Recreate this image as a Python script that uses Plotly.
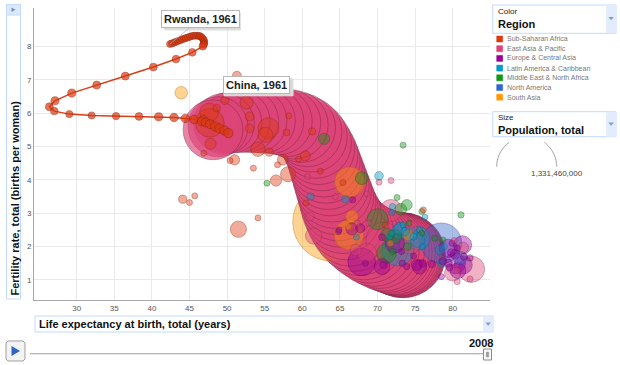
import math
import plotly.graph_objects as go

# ---------------- data (year 2008 snapshot) ----------------
region_names = ["Sub-Saharan Africa", "East Asia & Pacific", "Europe & Central Asia",
                "Latin America & Caribbean", "Middle East & North Africa", "North America", "South Asia"]
region_colors = ["#dc3912", "#dd4477", "#990099", "#0099c6", "#109618", "#3366cc", "#ff9900"]

ssa_names = ["Niger", "Mali", "Uganda", "Congo, Dem. Rep.", "Chad", "Nigeria", "Burkina Faso", "Ethiopia",
             "Tanzania", "Malawi", "Benin", "Gambia, The", "Mozambique", "Central African Republic", "Kenya",
             "Senegal", "Cameroon", "Guinea-Bissau", "Cote d'Ivoire", "Sudan", "Congo, Rep.", "Mauritania",
             "Togo", "Madagascar", "Comoros", "Ghana", "Zimbabwe", "Lesotho", "Swaziland", "South Africa",
             "Gabon", "Namibia", "Cape Verde", "Seychelles", "Guinea", "Sao Tome and Principe", "Angola"]
ssa_life = [51.3, 49.7, 52.6, 47.6, 48.6, 47.7, 53.0, 55.5, 55.1, 53.0, 57.9, 58.2, 47.8, 46.9, 54.1,
            55.6, 51.0, 50.4, 57.4, 58.1, 53.5, 56.7, 59.5, 60.4, 62.4, 56.5, 44.1, 45.0, 45.7, 51.5,
            54.1, 60.5, 71.0, 76.1, 61.3, 65.4, 46.8]
ssa_fert = [7.12, 6.38, 6.32, 6.02, 6.15, 5.71, 5.90, 5.55, 5.35, 5.55, 5.42, 5.92, 5.08, 4.80, 4.92,
            4.83, 4.60, 4.58, 4.60, 4.17, 4.35, 4.45, 4.62, 4.72, 4.26, 3.98, 3.42, 3.32, 3.52, 2.52,
            2.86, 3.31, 2.65, 3.10, 5.45, 3.92, 5.79]
ssa_pop = [14.7, 12.7, 31.7, 64.3, 11.0, 151.2, 15.2, 80.7, 42.5, 14.3, 8.7, 1.7, 22.4, 4.3, 38.8,
           12.2, 19.1, 1.6, 20.6, 41.3, 3.6, 3.2, 6.5, 19.1, 0.7, 23.4, 12.5, 2.0, 1.2, 48.7,
           1.4, 2.1, 0.5, 0.1, 9.8, 0.2, 18.0]

eap_names = ["Philippines", "Japan", "Korea, Rep.", "Hong Kong SAR, China", "Macao SAR, China", "Vietnam",
             "Indonesia", "Thailand", "Malaysia", "Myanmar", "Cambodia", "Australia", "New Zealand",
             "Papua New Guinea", "Lao PDR", "Mongolia", "Solomon Islands", "Samoa", "Kiribati",
             "Singapore", "Korea, Dem. Rep.", "Fiji"]
eap_life = [71.8, 82.5, 80.0, 82.3, 80.6, 74.3, 70.8, 68.6, 74.5, 61.5, 61.0, 81.4, 80.2,
            60.7, 64.4, 67.3, 70.2, 71.8, 68.6, 80.6, 67.1, 68.8]
eap_fert = [3.08, 1.32, 1.21, 1.03, 0.95, 2.10, 2.20, 1.81, 2.60, 2.32, 2.90, 1.97, 2.18,
            4.10, 3.50, 2.71, 3.93, 3.98, 3.58, 1.28, 1.90, 2.70]
eap_pop = [90.3, 127.7, 48.6, 7.0, 0.5, 86.2, 228.2, 67.4, 27.0, 49.2, 14.6, 21.4, 4.3,
           6.6, 6.2, 2.6, 0.5, 0.2, 0.1, 4.8, 23.8, 0.8]

eca_names = ["Russian Federation", "Ukraine", "Kazakhstan", "Tajikistan", "Kyrgyz Republic", "Uzbekistan",
             "Belarus", "Azerbaijan", "Turkey", "Armenia", "Georgia", "Romania", "Czech Republic",
             "Bulgaria", "Serbia", "Poland", "United Kingdom", "France", "Germany", "Italy", "Spain",
             "Sweden", "Portugal", "Hungary", "Austria", "Bosnia and Herzegovina", "Switzerland",
             "Netherlands", "Belgium", "Norway", "Ireland", "Greece", "Moldova", "Turkmenistan"]
eca_life = [67.9, 70.6, 67.7, 66.7, 64.8, 66.6, 70.8, 70.6, 72.3, 73.2, 74.8, 75.2, 76.0,
            73.3, 73.9, 75.6, 79.4, 81.3, 80.3, 81.4, 80.7, 81.5, 78.7, 77.2, 79.6, 78.5, 82.3,
            80.3, 79.8, 80.6, 79.9, 79.4, 68.4, 64.9]
eca_fert = [1.54, 1.40, 2.55, 3.40, 2.45, 2.53, 1.45, 2.28, 2.10, 1.85, 1.72, 1.45, 1.50,
            1.50, 1.40, 1.39, 1.95, 2.05, 1.50, 1.45, 1.28, 1.70, 1.56, 1.48, 1.38, 1.10, 1.66,
            1.77, 1.82, 1.96, 2.10, 1.51, 1.50, 2.50]
eca_pop = [142.0, 46.3, 15.7, 6.8, 5.3, 27.3, 9.7, 8.7, 70.0, 3.1, 4.4, 21.5, 10.4,
           7.6, 7.4, 38.1, 61.4, 62.1, 82.1, 59.8, 45.6, 9.2, 10.6, 10.0, 8.3, 3.8, 7.6,
           16.4, 10.7, 4.8, 4.4, 11.2, 3.6, 5.0]

lac_names = ["Haiti", "Guatemala", "Bolivia", "Guyana", "Paraguay", "Peru", "Nicaragua", "Ecuador",
             "Dominican Republic", "Venezuela, RB", "Colombia", "Mexico", "Argentina", "Brazil", "Chile",
             "Costa Rica", "Cuba", "Uruguay", "Belize", "Honduras", "Panama", "El Salvador", "Jamaica"]
lac_life = [61.1, 70.2, 65.7, 67.2, 71.9, 73.0, 73.4, 73.7, 74.8, 74.5, 72.9, 75.4, 75.3, 72.7, 78.3,
            78.9, 78.5, 76.0, 76.3, 72.0, 75.6, 71.6, 71.9]
lac_fert = [3.50, 4.12, 3.42, 2.28, 3.02, 2.55, 2.65, 2.45, 2.30, 2.40, 2.45, 2.25, 2.20, 1.90, 1.90,
            2.00, 1.50, 2.00, 2.88, 3.20, 2.50, 2.30, 2.40]
lac_pop = [9.9, 13.7, 9.7, 0.8, 6.2, 28.8, 5.7, 13.5, 9.8, 27.9, 45.0, 106.4, 39.9, 192.0, 16.8,
           4.5, 11.2, 3.3, 0.3, 7.3, 3.4, 6.1, 2.7]

mena_names = ["Yemen, Rep.", "Iraq", "Egypt, Arab Rep.", "Iran, Islamic Rep.", "Syrian Arab Republic",
              "Saudi Arabia", "Jordan", "Israel", "Oman", "West Bank and Gaza", "Djibouti", "Morocco",
              "Algeria", "Tunisia", "Libya", "Lebanon", "United Arab Emirates", "Kuwait", "Qatar"]
mena_life = [62.9, 67.9, 70.0, 71.2, 73.9, 73.1, 72.6, 81.1, 75.9, 73.4, 55.3, 71.3, 72.3, 74.0, 74.2,
             72.0, 78.7, 77.6, 75.9]
mena_fert = [5.23, 4.05, 2.82, 1.80, 3.25, 3.12, 3.47, 2.95, 3.05, 5.04, 3.90, 2.35, 2.30, 2.00, 2.70,
             1.85, 2.20, 2.25, 2.40]
mena_pop = [22.9, 30.0, 81.5, 72.0, 21.2, 24.8, 5.9, 7.3, 2.8, 3.9, 0.85, 31.2, 34.4, 10.3, 6.3,
            4.2, 4.5, 2.7, 1.3]

na_names = ["United States", "Canada"]
na_life = [78.5, 81.0]
na_fert = [2.10, 1.66]
na_pop = [304.1, 33.3]

sa_names = ["Afghanistan", "India", "Pakistan", "Bangladesh", "Nepal", "Sri Lanka", "Bhutan", "Maldives"]
sa_life = [43.9, 63.95, 66.3, 66.2, 66.6, 74.1, 66.1, 71.7]
sa_fert = [6.61, 2.74, 3.94, 2.35, 2.90, 2.35, 2.60, 2.10]
sa_pop = [29.0, 1140.0, 166.0, 160.0, 28.8, 20.2, 0.7, 0.3]

# trail of the selected country China, 1961-2008
china_years = list(range(1961, 2009))
china_life = [48.13, 48.79, 49.59, 50.52, 51.58, 52.65, 53.71, 54.77, 55.84, 56.90, 57.97, 58.90,
              59.83, 60.63, 61.29, 61.82, 62.22, 62.62, 62.89, 63.15, 63.42, 63.68, 63.95, 64.22,
              64.48, 64.75, 65.01, 65.41, 65.81, 66.34, 66.88, 67.54, 68.20, 68.87, 69.53, 70.20,
              70.86, 71.40, 71.80, 72.19, 72.46, 72.73, 72.93, 73.06, 73.19, 73.28, 73.35, 73.39]
china_fert = [5.50, 5.59, 5.68, 5.72, 5.75, 5.77, 5.77, 5.77, 5.77, 5.75, 5.71, 5.65,
              5.56, 5.44, 5.29, 5.11, 4.93, 4.75, 4.57, 4.39, 4.21, 4.03, 3.85, 3.67,
              3.49, 3.31, 3.13, 2.95, 2.77, 2.59, 2.44, 2.32, 2.20, 2.11, 2.02, 1.96,
              1.89, 1.86, 1.83, 1.80, 1.79, 1.77, 1.77, 1.76, 1.75, 1.74, 1.74, 1.74]
china_pop = [660.3, 665.8, 682.3, 698.4, 715.2, 735.4, 754.6, 774.5, 796.0, 818.3, 841.1, 862.0,
             881.9, 900.4, 916.4, 930.7, 943.5, 956.2, 969.0, 981.2, 993.9, 1008.6, 1023.3, 1036.8,
             1051.0, 1066.8, 1084.0, 1101.6, 1118.7, 1135.2, 1150.8, 1165.0, 1178.4, 1191.8, 1204.9, 1217.6,
             1230.1, 1241.9, 1252.7, 1262.6, 1271.9, 1280.4, 1288.4, 1296.1, 1303.7, 1311.0, 1317.9, 1331.46]

# trail of the selected country Rwanda, 1961-2008
rwanda_years = list(range(1961, 2009))
rwanda_life = [42.41, 42.67, 42.94, 43.20, 43.47, 43.74, 44.00, 44.27, 44.53, 44.80, 45.07, 45.33,
               45.60, 45.86, 46.13, 46.33, 46.53, 46.70, 46.84, 46.93, 46.95, 46.93, 46.86, 46.76,
               45.37, 43.20, 40.19, 36.46, 32.66, 29.34, 27.11, 26.36,
               27.02, 29.02, 31.99, 35.23, 38.28, 40.90, 42.94, 44.44, 45.60, 46.62, 47.15, 47.73,
               48.39, 48.96, 49.63, 50.16]
rwanda_fert = [8.07, 8.09, 8.11, 8.14, 8.16, 8.18, 8.21, 8.23, 8.25, 8.27, 8.29, 8.31,
               8.32, 8.32, 8.32, 8.31, 8.29, 8.25, 8.21, 8.17, 8.12, 8.08, 8.05, 8.00,
               7.82, 7.62, 7.38, 7.11, 6.84, 6.60, 6.37, 6.19,
               6.06, 5.97, 5.93, 5.91, 5.90, 5.89, 5.87, 5.84, 5.81, 5.75, 5.72, 5.67,
               5.60, 5.54, 5.48, 5.40]
rwanda_pop = [3.0, 3.1, 3.2, 3.3, 3.4, 3.5, 3.6, 3.7, 3.8, 3.9, 4.0, 4.1,
              4.2, 4.4, 4.5, 4.6, 4.8, 4.9, 5.1, 5.3, 5.5, 5.7, 5.9, 6.1,
              6.3, 6.5, 6.7, 6.9, 7.0, 7.2, 7.2, 6.9,
              6.2, 5.7, 5.6, 5.9, 6.6, 7.4, 7.9, 8.1, 8.3, 8.5, 8.7, 8.9,
              9.1, 9.3, 9.5, 9.7]

x_ticks = [30, 35, 40, 45, 50, 55, 60, 65, 70, 75, 80]
y_ticks = [1, 2, 3, 4, 5, 6, 7, 8]
current_year = "2008"
size_legend_value = "1,331,460,000"

# ---------------- styling helpers ----------------
FONT = "Liberation Sans, Arial, sans-serif"
PL, PR, PT, PB = 34, 490, 8, 300   # plot area in pixels
X_RANGE = [24.32, 84.96]
Y_RANGE = [0.4, 9.15]


def fx(px):
    return (px - PL) / (PR - PL)


def fy(py):
    return (PB - py) / (PB - PT)


def rgba(hexc, a, f=1.0):
    r, g, b = int(hexc[1:3], 16), int(hexc[3:5], 16), int(hexc[5:7], 16)
    return "rgba(%d,%d,%d,%.2f)" % (r * f, g * f, b * f, a)


groups = [
    (region_colors[0], ssa_names, ssa_life, ssa_fert, ssa_pop),
    (region_colors[1], eap_names, eap_life, eap_fert, eap_pop),
    (region_colors[2], eca_names, eca_life, eca_fert, eca_pop),
    (region_colors[3], lac_names, lac_life, lac_fert, lac_pop),
    (region_colors[4], mena_names, mena_life, mena_fert, mena_pop),
    (region_colors[5], na_names, na_life, na_fert, na_pop),
    (region_colors[6], sa_names, sa_life, sa_fert, sa_pop),
]

points = []
for col, names, lif, fer, pop in groups:
    for n, lx, fy_, p in zip(names, lif, fer, pop):
        points.append(dict(name=n + ", 2008", x=lx, y=fy_, s=p,
                           fill=rgba(col, 0.6), line=rgba(col, 0.85, 0.7)))
for yr, lx, fy_, p in zip(china_years, china_life, china_fert, china_pop):
    points.append(dict(name="China, %d" % yr, x=lx, y=fy_, s=p,
                       fill=rgba(region_colors[1], 0.93), line=rgba(region_colors[1], 1.0, 0.6)))
points.sort(key=lambda d: -d["s"])

max_pop = max(china_pop)
sizeref = max_pop / 60 ** 2   # largest bubble 60 px across

fig = go.Figure()
fig.add_trace(go.Scatter(
    x=[d["x"] for d in points], y=[d["y"] for d in points],
    text=[d["name"] for d in points], hoverinfo="text", mode="markers",
    marker=dict(size=[d["s"] for d in points], sizemode="area", sizeref=sizeref, sizemin=3,
                color=[d["fill"] for d in points],
                line=dict(color=[d["line"] for d in points], width=0.7)),
    showlegend=False))

fig.add_trace(go.Scatter(
    x=rwanda_life, y=rwanda_fert, mode="lines+markers",
    text=["Rwanda, %d" % y for y in rwanda_years], hoverinfo="text",
    line=dict(color="#d8401a", width=1.5),
    marker=dict(size=rwanda_pop, sizemode="area", sizeref=0.22, sizemin=3.5,
                color="#dc3912", line=dict(color="#8e2408", width=0.7)),
    showlegend=False))

shapes = []
annotations = []


def rect(x0, y0, x1, y1, fill="white", line="#c3d9ff", lw=1):
    shapes.append(dict(type="rect", xref="paper", yref="paper", x0=fx(x0), x1=fx(x1),
                       y0=fy(y1), y1=fy(y0), fillcolor=fill, line=dict(color=line, width=lw),
                       layer="above"))


def poly(pts, fill=None, line=None, lw=1, closed=True):
    path = "M " + " L ".join("%.5f,%.5f" % (fx(a), fy(b)) for a, b in pts)
    if closed:
        path += " Z"
    shapes.append(dict(type="path", xref="paper", yref="paper", path=path,
                       fillcolor=fill if fill else "rgba(0,0,0,0)",
                       line=dict(color=line if line else "rgba(0,0,0,0)", width=lw),
                       layer="above"))


def text(px, py, t, size=8, color="#222", xanchor="left", yanchor="middle", angle=0):
    annotations.append(dict(xref="paper", yref="paper", x=fx(px), y=fy(py), text=t,
                            showarrow=False, xanchor=xanchor, yanchor=yanchor, textangle=angle,
                            font=dict(family=FONT, size=size, color=color), borderpad=0))


def down_arrow(cx, cy):
    poly([(cx - 2.7, cy - 1.6), (cx + 2.7, cy - 1.6), (cx, cy + 1.8)], fill="#7d9bd8")


# y-axis title box
rect(6.5, 4.5, 20.5, 299)
rect(6.5, 4.5, 20.5, 15, fill="#dfe8f7")
poly([(11.5, 7.5), (15.5, 9.8), (11.5, 12.1)], fill="#6d8ed0")
text(14, 297, "<b>Fertility rate, total (births per woman)</b>", size=11, color="#111",
     xanchor="center", yanchor="bottom", angle=-90)

# x-axis title box
rect(35, 316, 493, 332)
rect(483.5, 316.5, 493, 332, fill="#e3ecfb", line="#e3ecfb")
down_arrow(488.2, 324)
text(38, 324, "<b>Life expectancy at birth, total (years)</b>", size=11, color="#111")

# color selector
rect(492.7, 5, 616, 33.3)
rect(606.7, 5.5, 615.5, 32.8, fill="#e3ecfb", line="#e3ecfb")
down_arrow(611.1, 18.5)
text(496.7, 11, "Color", size=8, color="#222")
text(496.7, 24, "<b>Region</b>", size=11, color="#111")

# region legend
for i, (nm, col) in enumerate(zip(region_names, region_colors)):
    cy = 39 + i * 9.7
    rect(496.7, cy - 3, 502.7, cy + 3, fill=col, line=col, lw=0.5)
    text(505.5, cy, nm, size=7, color="#777")

# size selector
rect(492.7, 111.7, 616, 136.7)
rect(606.7, 112.2, 615.5, 136.2, fill="#e3ecfb", line="#e3ecfb")
down_arrow(611.1, 124)
text(496.7, 117.5, "Size", size=8, color="#222")
text(496.7, 129.5, "<b>Population, total</b>", size=11, color="#111")

# size legend arcs
cxa, cya, ra = 526.7, 166.7, 30
left_arc = [(cxa + ra * math.cos(math.radians(a)), cya - ra * math.sin(math.radians(a)))
            for a in range(180, 125, -3)]
right_arc = [(cxa + ra * math.cos(math.radians(a)), cya - ra * math.sin(math.radians(a)))
             for a in range(54, -1, -3)]
poly(left_arc, line="#a0a0a0", lw=1, closed=False)
poly(right_arc, line="#a0a0a0", lw=1, closed=False)
text(556.7, 173.5, size_legend_value, size=8, color="#444", xanchor="center")

# play button and time slider
poly([(8, 341), (23, 341), (25, 343), (25, 359), (23, 361), (8, 361), (6, 359), (6, 343)],
     fill="#f3f3f3", line="#a0a0a0", lw=1)
poly([(11.5, 346), (20, 351), (11.5, 356)], fill="#2f64c0")
shapes.append(dict(type="line", xref="paper", yref="paper", x0=fx(30), x1=fx(487),
                   y0=fy(353.5), y1=fy(353.5), line=dict(color="#b4b4b4", width=1), layer="above"))
shapes.append(dict(type="line", xref="paper", yref="paper", x0=fx(30), x1=fx(487),
                   y0=fy(354.6), y1=fy(354.6), line=dict(color="#e4e4e4", width=1), layer="above"))
rect(483.5, 349, 491.5, 360, fill="#fafafa", line="#8a8a8a")
rect(486.3, 352, 488.7, 357, fill="#9a9a9a", line="#9a9a9a", lw=0.5)
text(494, 343, "<b>" + current_year + "</b>", size=11, color="#111", xanchor="right")


# entity labels with soft shadows (shadow = plain box shape)
def data_px(xv, yv):
    return (PL + (xv - X_RANGE[0]) / (X_RANGE[1] - X_RANGE[0]) * (PR - PL),
            PB - (yv - Y_RANGE[0]) / (Y_RANGE[1] - Y_RANGE[0]) * (PB - PT))


lab_font = dict(family=FONT, size=11, color="#222")
r0 = (rwanda_life[0], rwanda_fert[0])
c0 = (china_life[0], china_fert[0])
for (xv, yv), label, ax, ay, half_w, arrow in [(r0, "Rwanda, %d" % rwanda_years[0], 30, -25, 38, True),
                                               (c0, "China, %d" % china_years[0], 43, -45, 34.5, False)]:
    cxp, cyp = data_px(xv, yv)
    cxp, cyp = cxp + ax, cyp + ay
    shapes.append(dict(type="rect", xref="paper", yref="paper",
                       x0=fx(cxp - half_w + 2.5), x1=fx(cxp + half_w + 2.5),
                       y0=fy(cyp + 8.5 + 2.5), y1=fy(cyp - 8.5 + 2.5),
                       fillcolor="#d9d9d9", line=dict(color="#e2e2e2", width=1), layer="above"))
    if arrow:
        annotations.append(dict(x=xv, y=yv, xref="x", yref="y", text="<b>%s</b>" % label,
                                showarrow=True, arrowhead=0, arrowwidth=0.7, arrowcolor="#b0b0b0",
                                ax=ax, ay=ay, font=lab_font, bgcolor="white",
                                bordercolor="#b8b8b8", borderwidth=1, borderpad=2))
    else:
        annotations.append(dict(x=xv, y=yv, xref="x", yref="y", text="<b>%s</b>" % label,
                                showarrow=False, xshift=ax, yshift=-ay, font=lab_font,
                                bgcolor="white", bordercolor="#b8b8b8", borderwidth=1, borderpad=2))

axis_common = dict(showgrid=True, gridcolor="#e9e9e9", gridwidth=1, zeroline=False,
                   showline=True, linecolor="#a8a8a8", linewidth=1, ticks="",
                   tickfont=dict(family=FONT, size=8, color="#555"), fixedrange=True)

fig.update_layout(
    width=620, height=365,
    margin=dict(l=PL, r=620 - PR, t=PT, b=365 - PB, pad=0),
    paper_bgcolor="white", plot_bgcolor="white",
    xaxis=dict(range=X_RANGE, tickvals=x_ticks, ticktext=[str(v) for v in x_ticks], **axis_common),
    yaxis=dict(range=Y_RANGE, tickvals=y_ticks, ticktext=[str(v) for v in y_ticks], **axis_common),
    shapes=shapes, annotations=annotations, showlegend=False,
    font=dict(family=FONT),
)

fig.write_html("out.html", config={"displayModeBar": False},
               post_script="document.body.style.margin='0px';document.body.style.overflow='hidden';")
